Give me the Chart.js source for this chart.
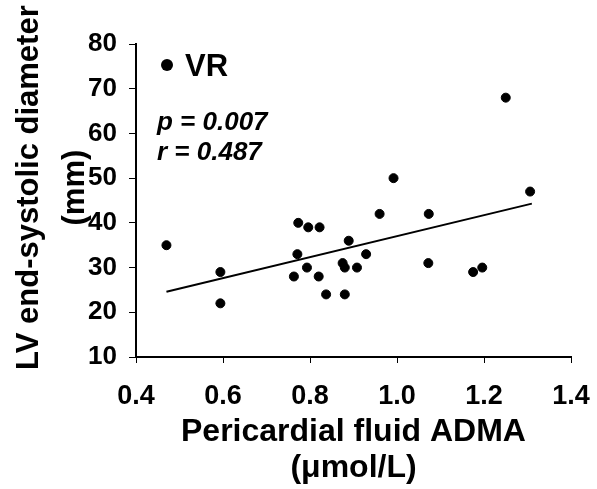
<!DOCTYPE html>
<html>
<head>
<meta charset="utf-8">
<script src="https://cdn.jsdelivr.net/npm/chart.js@4/dist/chart.umd.min.js"></script>
<style>
  html, body { margin: 0; padding: 0; background: #fff; }
  #wrap { width: 597px; height: 489px; position: relative; }
</style>
</head>
<body>
<div id="wrap"><canvas id="chart"></canvas></div>
<script>
// ADMA (umol/L) vs LV end-systolic diameter (mm), VR group
const admaValues = [0.47, 0.594, 0.594, 0.763, 0.771, 0.773, 0.796, 0.793, 0.822, 0.820, 0.837, 0.880, 0.875, 0.880, 0.889, 0.908, 0.929, 0.960, 0.992, 1.073, 1.072, 1.175, 1.196, 1.250, 1.306];
const lvesdValues = [35, 29, 22, 28, 33, 40, 39, 30, 39, 28, 24, 24, 31, 30, 36, 30, 33, 42, 50, 42, 31, 29, 30, 68, 47];

// regression line end points
const fitX = [0.47, 1.31];
const fitY = [24.6, 44.3];

const xTicks = [0.4, 0.6, 0.8, 1.0, 1.2, 1.4];
const yTicks = [10, 20, 30, 40, 50, 60, 70, 80];

const groupLabel = 'VR';
const statsText = ['p = 0.007', 'r = 0.487'];

const FONT = '"Liberation Sans", Arial, sans-serif';

const points = admaValues.map((x, i) => ({ x: x, y: lvesdValues[i] }));
const fitLine = fitX.map((x, i) => ({ x: x, y: fitY[i] }));

// legend and stats written inside the plot
const innerText = {
    id: 'innerText',
    afterDraw(chart) {
        const ctx = chart.ctx;
        const xs = chart.scales.x, ys = chart.scales.y;
        ctx.save();
        ctx.fillStyle = '#000';
        ctx.beginPath();
        ctx.arc(xs.left + 31, ys.top + 21, 6, 0, Math.PI * 2);
        ctx.fill();
        ctx.font = 'bold 31px ' + FONT;
        ctx.textBaseline = 'alphabetic';
        ctx.fillText(chart.data.datasets[0].label, xs.left + 49, ys.top + 32);
        ctx.font = 'italic bold 26px ' + FONT;
        ctx.fillText(statsText[0], xs.left + 21, ys.top + 86);
        ctx.fillText(statsText[1], xs.left + 21, ys.top + 116);
        ctx.restore();
    }
};

new Chart(document.getElementById('chart'), {
    type: 'scatter',
    data: {
        datasets: [{
            label: groupLabel,
            data: points,
            backgroundColor: '#000',
            borderColor: '#000',
            pointRadius: 4.5,
            pointHoverRadius: 4.5
        }, {
            type: 'line',
            label: 'fit',
            data: fitLine,
            borderColor: '#000',
            borderWidth: 2,
            pointRadius: 0,
            fill: false
        }]
    },
    options: {
        responsive: true,
        maintainAspectRatio: false,
        animation: false,
        layout: { padding: { top: 44, right: 26, left: 0, bottom: 0 } },
        plugins: {
            legend: { display: false },
            tooltip: { enabled: false }
        },
        scales: {
            x: {
                type: 'linear',
                min: 0.4,
                max: 1.4,
                afterBuildTicks: s => { s.ticks = xTicks.map(v => ({ value: v })); },
                afterFit: s => { s.height = 132; s.paddingLeft = 0; s.paddingRight = 0; },
                border: { color: '#000', width: 2 },
                grid: { drawOnChartArea: false, color: '#000', tickLength: 6, tickWidth: 1 },
                ticks: {
                    color: '#000',
                    padding: 17,
                    font: { family: FONT, size: 27, weight: 'bold' },
                    callback: v => v.toFixed(1)
                },
                title: {
                    display: true,
                    text: ['Pericardial fluid ADMA', '(\u03bcmol/L)'],
                    color: '#000',
                    font: { family: FONT, size: 32, weight: 'bold', lineHeight: 1.125 },
                    padding: { top: 4, bottom: 3 }
                }
            },
            y: {
                min: 10,
                max: 80,
                afterBuildTicks: s => { s.ticks = yTicks.map(v => ({ value: v })); },
                afterFit: s => { s.width = 136; s.paddingTop = 0; s.paddingBottom = 0; },
                border: { color: '#000', width: 2 },
                grid: { drawOnChartArea: false, color: '#000', tickLength: 7, tickWidth: 1 },
                ticks: {
                    color: '#000',
                    padding: 12,
                    font: { family: FONT, size: 26, weight: 'bold' }
                },
                title: {
                    display: true,
                    text: ['   LV end-systolic diameter', '   (mm)'],
                    color: '#000',
                    font: { family: FONT, size: 31, weight: 'bold', lineHeight: 1.48 },
                    padding: { top: 7, bottom: 0 }
                }
            }
        }
    },
    plugins: [innerText]
});
</script>
</body>
</html>
